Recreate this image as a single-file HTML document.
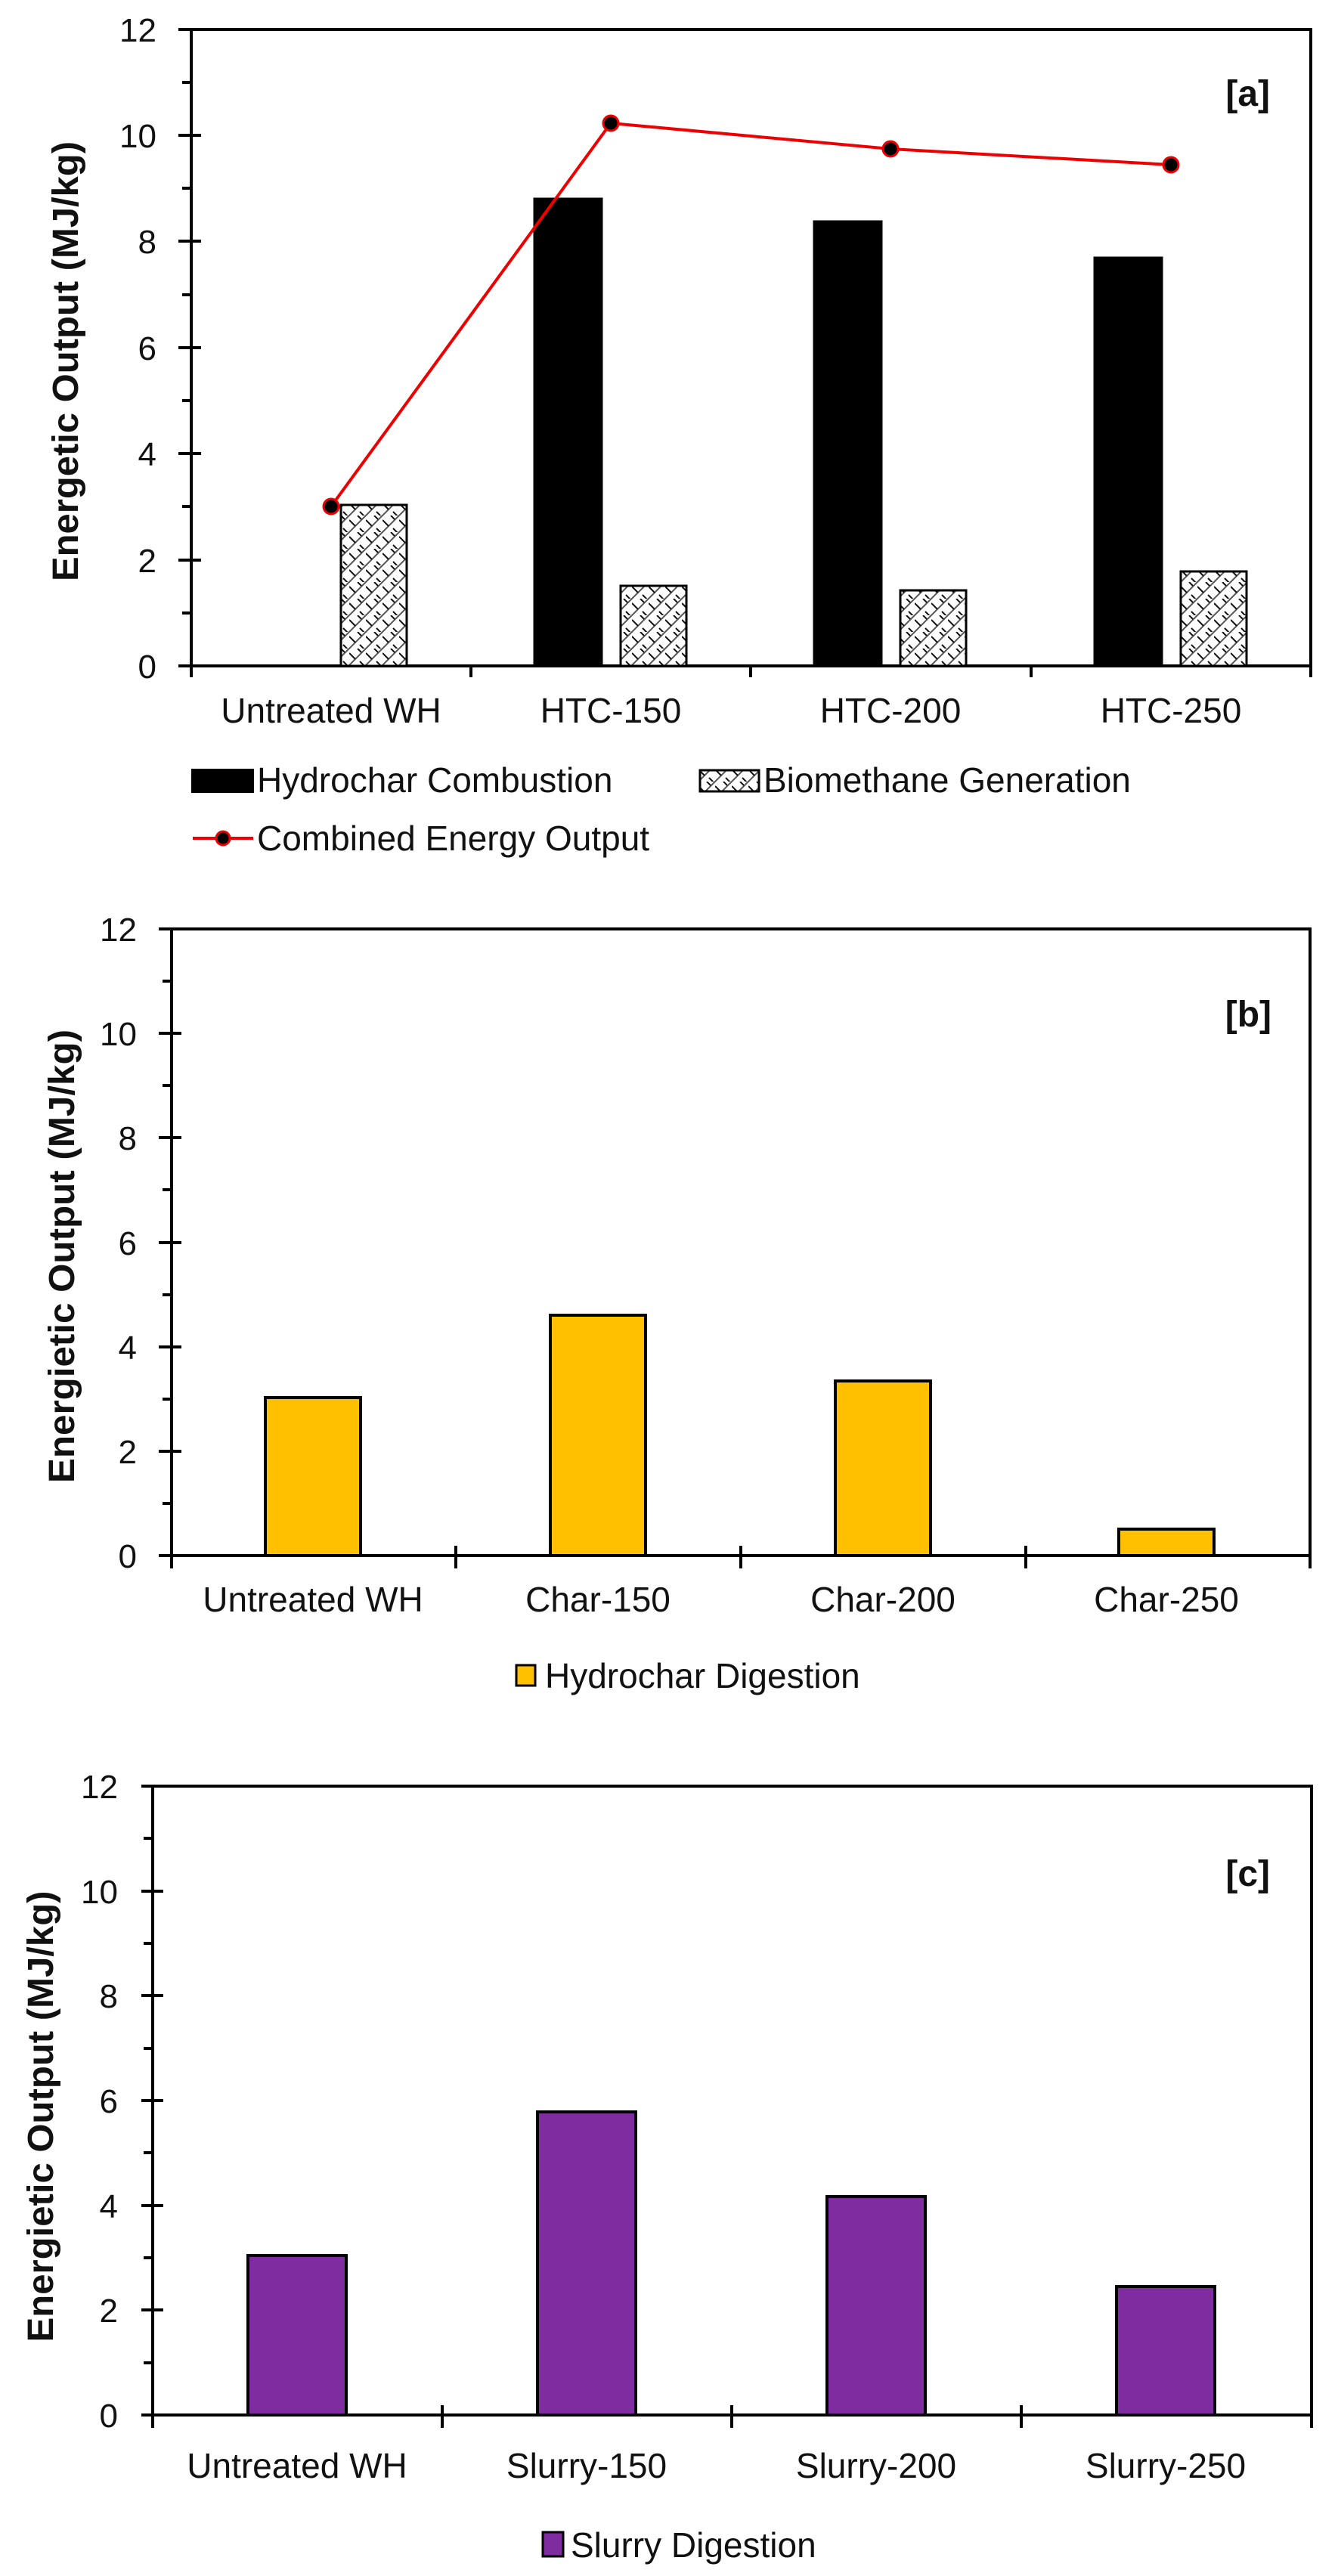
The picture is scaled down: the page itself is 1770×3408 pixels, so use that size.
<!DOCTYPE html>
<html><head><meta charset="utf-8"><style>
html,body{margin:0;padding:0;background:#fff}
svg{display:block}
text{font-family:"Liberation Sans",Arial,sans-serif;fill:#111}
</style></head><body>
<svg width="1770" height="3408" viewBox="0 0 1770 3408" xmlns="http://www.w3.org/2000/svg">
<defs>
<pattern id="h" width="22" height="22" patternUnits="userSpaceOnUse">
<rect width="22" height="22" fill="#fff"/>
<path d="M0 22L22 0M-5 5L5 -5M17 27L27 17" stroke="#555" stroke-width="2"/>
<path d="M0 6L8 14M11 0L16 5M14 17L22 25" stroke="#111" stroke-width="2"/>
</pattern>
</defs>

<!-- ===== Chart A ===== -->
<g stroke="#000" stroke-width="4" fill="none">
<rect x="253" y="39" width="1481" height="842"/>
<path d="M236 39H253M236 179H266M236 319H266M236 460H266M236 600H266M236 741H266M236 881H253"/>
<path d="M241 109H253M241 249H253M241 390H253M241 530H253M241 670H253M241 811H253"/>
<path d="M253 881V896M623 881V896M993 881V896M1364 881V896M1734 881V896"/>
</g>
<g font-size="44" text-anchor="end">
<text x="207" y="55">12</text><text x="207" y="195">10</text><text x="207" y="335">8</text>
<text x="207" y="476">6</text><text x="207" y="616">4</text><text x="207" y="757">2</text><text x="207" y="897">0</text>
</g>
<text transform="translate(103,478) rotate(-90)" font-size="48" font-weight="bold" text-anchor="middle" textLength="582" lengthAdjust="spacingAndGlyphs">Energetic Output (MJ/kg)</text>
<g stroke="#000" stroke-width="3">
<rect x="707" y="263" width="89" height="618" fill="#000"/>
<rect x="1077" y="293" width="89" height="588" fill="#000"/>
<rect x="1448" y="341" width="89" height="540" fill="#000"/>
<rect x="451" y="668" width="87" height="213" fill="url(#h)"/>
<rect x="821" y="775" width="87" height="106" fill="url(#h)"/>
<rect x="1191" y="781" width="87" height="100" fill="url(#h)"/>
<rect x="1562" y="756" width="87" height="125" fill="url(#h)"/>
</g>
<polyline points="438,670 808,163 1178,197 1549,218" fill="none" stroke="#e00" stroke-width="4"/>
<g fill="#000" stroke="#e00" stroke-width="3">
<circle cx="438" cy="670" r="10"/><circle cx="808" cy="163" r="10"/><circle cx="1178" cy="197" r="10"/><circle cx="1549" cy="218" r="10"/>
</g>
<text x="1680" y="140" font-size="48" font-weight="bold" text-anchor="end">[a]</text>
<g font-size="46" text-anchor="middle">
<text x="438" y="956">Untreated WH</text><text x="808" y="956">HTC-150</text>
<text x="1178" y="956">HTC-200</text><text x="1549" y="956">HTC-250</text>
</g>
<rect x="253" y="1017" width="83" height="32" fill="#000"/>
<text x="340" y="1048" font-size="46">Hydrochar Combustion</text>
<rect x="926" y="1019" width="78" height="28" fill="url(#h)" stroke="#000" stroke-width="3"/>
<text x="1010" y="1048" font-size="46">Biomethane Generation</text>
<line x1="255" y1="1109" x2="335" y2="1109" stroke="#e00" stroke-width="4"/>
<circle cx="295" cy="1109" r="9" fill="#000" stroke="#e00" stroke-width="3"/>
<text x="340" y="1125" font-size="46">Combined Energy Output</text>

<!-- ===== Chart B ===== -->
<g stroke="#000" stroke-width="4" fill="none">
<rect x="227" y="1229" width="1506" height="829"/>
<path d="M210 1229H227M210 1367H240M210 1505H240M210 1644H240M210 1782H240M210 1920H240M210 2058H227"/>
<path d="M215 1298H227M215 1436H227M215 1574H227M215 1713H227M215 1851H227M215 1989H227"/>
<path d="M227 2058V2075M603 2045V2075M980 2045V2075M1357 2045V2075M1733 2058V2075"/>
</g>
<g font-size="44" text-anchor="end">
<text x="181" y="1245">12</text><text x="181" y="1383">10</text><text x="181" y="1521">8</text>
<text x="181" y="1660">6</text><text x="181" y="1798">4</text><text x="181" y="1936">2</text><text x="181" y="2074">0</text>
</g>
<text transform="translate(98,1662) rotate(-90)" font-size="48" font-weight="bold" text-anchor="middle" textLength="600" lengthAdjust="spacingAndGlyphs">Energietic Output (MJ/kg)</text>
<g fill="#FFC000" stroke="#000" stroke-width="4">
<rect x="351" y="1849" width="126" height="209"/>
<rect x="728" y="1740" width="126" height="318"/>
<rect x="1105" y="1827" width="126" height="231"/>
<rect x="1480" y="2023" width="126" height="35"/>
</g>
<text x="1682" y="1358" font-size="48" font-weight="bold" text-anchor="end">[b]</text>
<g font-size="46" text-anchor="middle">
<text x="414" y="2132">Untreated WH</text><text x="791" y="2132">Char-150</text>
<text x="1168" y="2132">Char-200</text><text x="1543" y="2132">Char-250</text>
</g>
<rect x="683" y="2203" width="25" height="27" fill="#FFC000" stroke="#000" stroke-width="3"/>
<text x="721" y="2233" font-size="46">Hydrochar Digestion</text>

<!-- ===== Chart C ===== -->
<g stroke="#000" stroke-width="4" fill="none">
<rect x="202" y="2363" width="1533" height="832"/>
<path d="M187 2363H202M187 2502H216M187 2640H216M187 2779H216M187 2918H216M187 3056H216M187 3195H202"/>
<path d="M190 2432H202M190 2571H202M190 2710H202M190 2848H202M190 2987H202M190 3126H202"/>
<path d="M202 3195V3212M585 3182V3212M968 3182V3212M1351 3182V3212M1735 3195V3212"/>
</g>
<g font-size="44" text-anchor="end">
<text x="156" y="2379">12</text><text x="156" y="2518">10</text><text x="156" y="2656">8</text>
<text x="156" y="2795">6</text><text x="156" y="2934">4</text><text x="156" y="3072">2</text><text x="156" y="3211">0</text>
</g>
<text transform="translate(70,2800) rotate(-90)" font-size="48" font-weight="bold" text-anchor="middle" textLength="597" lengthAdjust="spacingAndGlyphs">Energietic Output (MJ/kg)</text>
<g fill="#7F2CA0" stroke="#000" stroke-width="4">
<rect x="328" y="2984" width="130" height="211"/>
<rect x="711" y="2794" width="130" height="401"/>
<rect x="1094" y="2906" width="130" height="289"/>
<rect x="1477" y="3025" width="130" height="170"/>
</g>
<text x="1680" y="2495" font-size="48" font-weight="bold" text-anchor="end">[c]</text>
<g font-size="46" text-anchor="middle">
<text x="393" y="3278">Untreated WH</text><text x="776" y="3278">Slurry-150</text>
<text x="1159" y="3278">Slurry-200</text><text x="1542" y="3278">Slurry-250</text>
</g>
<rect x="718" y="3350" width="27" height="32" fill="#7F2CA0" stroke="#000" stroke-width="3"/>
<text x="755" y="3383" font-size="46">Slurry Digestion</text>
</svg>
</body></html>
